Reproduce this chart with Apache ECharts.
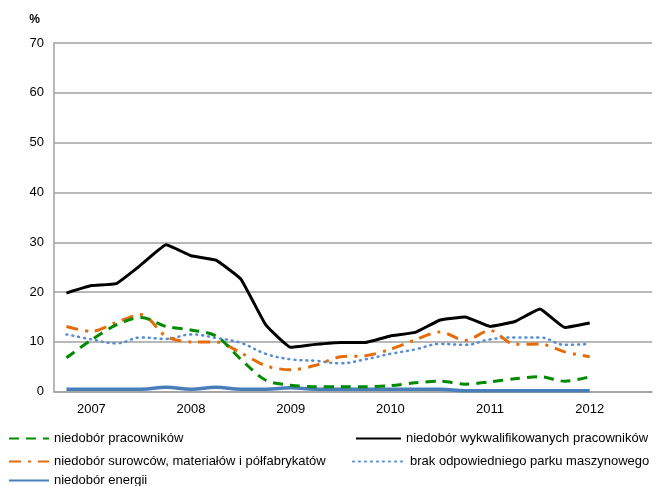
<!DOCTYPE html>
<html>
<head>
<meta charset="utf-8">
<script src="https://cdn.jsdelivr.net/npm/echarts@6/dist/echarts.min.js"></script>
<style>html,body{margin:0;padding:0;background:#fff}#c{width:664px;height:486px}</style>
</head>
<body>
<div id="c"></div>
<script>
// Quarterly categories (IV 2006 ... III 2012)
const categories = ['IV 2006',
  'I 2007','II 2007','III 2007','IV 2007',
  'I 2008','II 2008','III 2008','IV 2008',
  'I 2009','II 2009','III 2009','IV 2009',
  'I 2010','II 2010','III 2010','IV 2010',
  'I 2011','II 2011','III 2011','IV 2011',
  'I 2012','II 2012','III 2012'];
const xTickLabels = ['', '2007','','','', '2008','','','', '2009','','','', '2010','','','', '2011','','','', '2012','',''];
const yTicks = [0, 10, 20, 30, 40, 50, 60, 70];

const names = [
  'niedobór pracowników',
  'niedobór wykwalifikowanych pracowników',
  'niedobór surowców, materiałów i półfabrykatów',
  'brak odpowiedniego parku maszynowego',
  'niedobór energii'
];
const pracownikow = [6.8, 10.4, 13.4, 14.9, 13.1, 12.4, 11.2, 6.5, 2.3, 1.3, 1.0, 1.0, 1.0, 1.2, 1.8, 2.1, 1.5, 2.0, 2.6, 3.0, 2.1, 3.0];
const wykwalifikowanych = [19.8, 21.3, 21.7, 25.5, 29.5, 27.3, 26.4, 22.6, 13.4, 8.9, 9.5, 9.9, 9.9, 11.2, 11.9, 14.4, 15.0, 13.1, 14.1, 16.6, 12.9, 13.8];
const surowcow = [13.1, 12.1, 13.9, 15.5, 11.1, 10.0, 10.0, 7.8, 5.2, 4.4, 5.3, 7.0, 7.2, 8.5, 10.4, 12.0, 10.3, 12.3, 9.5, 9.6, 8.0, 7.0];
const parku = [11.5, 10.5, 9.7, 10.9, 10.6, 11.5, 10.8, 9.8, 7.6, 6.5, 6.2, 5.7, 6.5, 7.6, 8.5, 9.6, 9.4, 10.5, 10.9, 10.9, 9.4, 9.6];
const energii = [0.5, 0.5, 0.5, 0.5, 0.9, 0.5, 0.9, 0.5, 0.5, 0.8, 0.5, 0.5, 0.5, 0.5, 0.5, 0.5, 0.2, 0.2, 0.2, 0.2, 0.2, 0.2];

const FONT = 'Liberation Sans, Arial, sans-serif';
const chart = echarts.init(document.getElementById('c'), null, {renderer: 'canvas'});

function ser(name, data, color, width, dash, cap, z, smooth) {
  return {
    name: name, type: 'line', data: data, symbol: 'none', smooth: smooth, z: z,
    lineStyle: {color: color, width: width, type: dash, cap: cap},
    itemStyle: {color: color},
    emphasis: {disabled: true}
  };
}

const legendText = {fontFamily: FONT, fontSize: 13, color: '#000'};
function leg(name, left, top, w) {
  return {
    left: left, top: top, itemWidth: w, itemHeight: 12, itemGap: 0, padding: 0,
    itemStyle: {opacity: 0}, selectedMode: false,
    data: [name], textStyle: legendText
  };
}

chart.setOption({
  animation: false,
  backgroundColor: '#fff',
  grid: {left: 54, right: 12, top: 43, bottom: 94.3, containLabel: false},
  xAxis: {
    type: 'category', data: categories, boundaryGap: true,
    axisLine: {lineStyle: {color: '#a0a0a0', width: 1.5}},
    axisTick: {show: false},
    axisLabel: {
      interval: 0, margin: 11,
      formatter: (v, i) => xTickLabels[i],
      fontFamily: FONT, fontSize: 13, color: '#000'
    },
    splitLine: {show: false}
  },
  yAxis: {
    type: 'value', min: yTicks[0], max: yTicks[yTicks.length - 1], interval: 10,
    name: '%', nameLocation: 'end', nameGap: 17,
    nameTextStyle: {fontFamily: FONT, fontSize: 12, fontWeight: 'bold', color: '#000', align: 'right', padding: [0, 14, 0, 0]},
    axisLine: {show: true, lineStyle: {color: '#a0a0a0', width: 1.5}},
    axisTick: {show: false},
    axisLabel: {margin: 10, fontFamily: FONT, fontSize: 13, color: '#000'},
    splitLine: {lineStyle: {color: '#a0a0a0', width: 1.5}}
  },
  legend: [
    leg(names[0], 8, 432, 40),
    leg(names[2], 8, 455, 40),
    leg(names[4], 8, 474, 40),
    leg(names[1], 355, 432, 45),
    leg(names[3], 352, 455, 52)
  ],
  series: [
    ser(names[0], pracownikow, '#008a00', 3, [10, 7], 'butt', 4, 0.3),
    ser(names[1], wykwalifikowanych, '#000000', 3, 'solid', 'butt', 5, 0.1),
    ser(names[2], surowcow, '#e46c0a', 3, [12, 7, 3, 7], 'butt', 3, 0.3),
    ser(names[3], parku, '#558ed5', 2.5, [1, 5], 'round', 2, 0.4),
    ser(names[4], energii, '#4a7ebb', 3.5, 'solid', 'butt', 1, 0.4)
  ]
});
</script>
</body>
</html>
